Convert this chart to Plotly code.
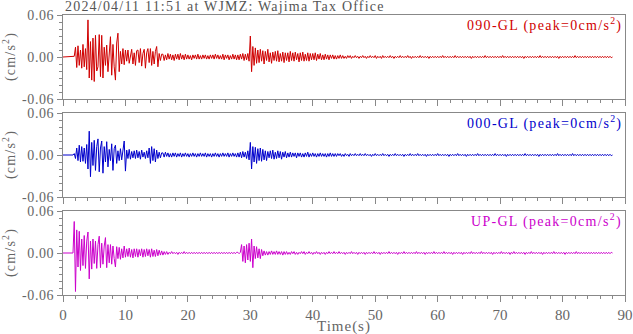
import numpy as np
import plotly.graph_objects as go
from plotly.subplots import make_subplots

# sampling step of the traces (s); values are in 0.001 cm/s^2
dt = 0.2

ns_090 = [
    0, 0, 0, 0, 0, 0, 0, 0, 0, 1, 14, -15, 16, -12, 10, -16, 18, -14, 12, -18,
    53, -30, 22, -33, 27, -35, 31, -20, -14, 32, -28, 31, -30, 14, -12, 17, -21, 10, 29, -26,
    18, -14, -33, 20, 34, -21, 8, -10, 12, -11, 10, -6, 10, -9, 4, 11, -10, 6, -12, 9,
    10, -8, 12, -13, 5, 11, -16, 6, 12, -8, 12, -12, 8, -10, 8, 15, -14, 5, -5, 4,
    4, -5, 3, -4, 5, -3, 4, -4, 3, -5, 4, -3, 4, -4, 5, -3, 3, -4, 4, -3,
    3, -3, 2, -4, 3, -2, 3, -3, 4, -3, 2, -3, 3, -2, 3, -3, 2, -3, 3, -2,
    3, -3, 4, -2, 3, -3, 2, -3, 4, -4, 3, -2, 3, -4, 2, -3, 4, -3, 3, -4,
    3, -4, 4, -3, 5, -5, 4, -4, 5, -6, 30, -21, 15, -12, 13, -9, 10, -8, 11, -6,
    9, -10, 8, -5, 11, -7, 6, -9, 7, -5, 8, -6, 9, -7, 5, -6, 7, -8, 6, -5,
    6, -7, 8, -5, 6, -6, 7, -4, 5, -7, 6, -5, 7, -6, 4, -5, 6, -6, 5, -4,
    5, -4, 6, -5, 4, -3, 5, -4, 3, -4, 4, -3, 3, -4, 3, -2, 3, -3, 2, -3,
    2, -2, 3, -2, 2, -2, 1, -2, 2, -1, 2, -2, 1, -1, 2, -1, 1, -2, 1, -1,
    2, -1, 1, -2, 1, -1, 2, -1, 1, -1, 2, -2, 1, -1, 1, -2, 2, -1, 1, -1,
    1, -1, 2, -1, 1, -2, 1, -1, 1, -1, 2, -1, 1, -1, 1, -1, 2, -1, 1, -2,
    1, -1, 1, -1, 1, -1, 2, -1, 1, -1, 1, -1, 1, -2, 1, -1, 1, -1, 1, -1,
    1, -1, 1, -1, 2, -1, 1, -1, 1, -1, 1, -1, 1, -1, 2, -1, 1, -1, 1, -1,
    1, -1, 1, -1, 1, -1, 1, -2, 1, -1, 1, -1, 1, -1, 1, -1, 1, -1, 2, -1,
    1, -1, 1, -1, 1, -1, 1, -1, 1, -1, 1, -1, 2, -1, 1, -1, 1, -1, 1, -1,
    1, -1, 1, -1, 1, -1, 1, -1, 1, -2, 1, -1, 1, -1, 1, -1, 1, -1, 1, -1,
    1, -1, 2, -1, 1, -1, 1, -1, 1, -1, 1, -1, 1, -1, 1, -1, 1, -2, 1, -1,
    1, -1, 1, -1, 1, -1, 1, -1, 1, -1, 2, -1, 1, -1, 1, -1, 1, -1, 1, -1,
    1, -1, 1, -1, 1, -1, 1, -1, 1, -1, 1, -1, 1, -1, 1, -1, 1, -1, 1, -1,
    0,
]

ns_000 = [
    0, 0, 0, 0, 0, 0, 0, 0, 0, 2, -5, 10, -8, 14, -10, 12, -9, 10, -12, 15,
    -20, 34, -31, 18, -15, 21, -22, 12, 23, -24, 10, 20, -26, 12, -10, 19, -17, 8, -8, 16,
    -22, 9, 14, -12, 6, -8, 9, -7, 5, 20, -23, 7, -5, 8, -6, 5, -4, 6, -5, 7,
    -4, 5, -6, 7, -3, 4, -5, 6, -4, 10, -12, 12, -8, 9, -10, 7, -5, 4, -4, 3,
    3, -3, 4, -2, 3, -3, 2, -3, 3, -2, 3, -3, 2, -2, 3, -3, 2, -2, 3, -2,
    2, -3, 2, -2, 3, -2, 2, -3, 2, -2, 3, -2, 2, -2, 3, -3, 2, -2, 2, -3,
    2, -2, 3, -2, 2, -3, 2, -2, 3, -2, 2, -2, 3, -3, 2, -2, 3, -2, 2, -3,
    3, -3, 4, -4, 5, -3, 4, -5, 6, -7, 18, -20, 12, -10, 11, -12, 9, -8, 10, -9,
    8, -7, 6, -8, 5, -4, 6, -5, 7, -6, 4, -5, 6, -4, 5, -6, 4, -3, 5, -4,
    3, -3, 4, -3, 3, -2, 3, -4, 3, -2, 3, -3, 2, -3, 3, -2, 4, -3, 2, -2,
    3, -2, 2, -3, 2, -2, 3, -2, 2, -2, 2, -3, 2, -2, 3, -2, 2, -2, 2, -2,
    2, -1, 2, -2, 1, -2, 2, -1, 1, -2, 2, -1, 1, -1, 2, -1, 1, -1, 2, -1,
    1, -1, 2, -1, 1, -1, 1, -2, 1, -1, 2, -1, 1, -1, 1, -1, 2, -1, 1, -1,
    1, -2, 1, -1, 1, -1, 2, -1, 1, -1, 1, -1, 1, -2, 1, -1, 1, -1, 2, -1,
    1, -1, 1, -1, 2, -1, 1, -1, 1, -1, 1, -2, 1, -1, 1, -1, 1, -1, 1, -1,
    2, -1, 1, -1, 1, -1, 1, -1, 1, -2, 1, -1, 1, -1, 1, -1, 2, -1, 1, -1,
    1, -1, 1, -2, 1, -1, 1, -1, 1, -1, 1, -1, 2, -1, 1, -1, 1, -1, 1, -1,
    1, -1, 1, -1, 1, -1, 2, -1, 1, -1, 1, -1, 1, -1, 1, -2, 1, -1, 1, -1,
    1, -1, 1, -1, 1, -1, 1, -1, 1, -1, 2, -1, 1, -1, 1, -1, 1, -1, 1, -1,
    1, -2, 1, -1, 1, -1, 1, -1, 1, -1, 1, -1, 1, -1, 1, -1, 2, -1, 1, -1,
    1, -1, 1, -1, 1, -1, 1, -1, 2, -1, 1, -1, 1, -1, 1, -1, 1, -1, 1, -1,
    1, -1, 1, -1, 1, -1, 1, -1, 1, -1, 1, -1, 1, -1, 1, -1, 1, -1, 1, -1,
    0,
]

ud = [
    0, 0, 0, 0, 0, 0, 0, 0, 0, 45, -55, 33, -20, 31, -25, 20, -18, 25, -22, 17,
    30, -37, 17, -23, 20, -15, 17, -22, 12, 24, -21, 14, -16, 10, 22, -21, 12, -14, 12, -16,
    10, -8, -20, 9, -8, 8, -9, 6, -7, 10, -6, 6, -5, 7, -6, 5, -7, 6, -5, 6,
    -6, 5, -4, 6, -6, 5, -5, 6, -4, 5, -6, 6, -5, 4, -5, 5, -4, 4, -3, 3,
    -3, 2, -2, 2, -2, 1, -1, 2, -1, 1, -1, 1, -2, 1, -1, 1, -1, 2, -1, 1,
    -1, 1, -1, 1, -1, 1, -1, 1, -1, 1, -1, 1, -1, 1, -1, 1, -1, 1, -1, 1,
    -1, 1, -1, 1, -1, 1, -1, 1, -1, 1, -1, 1, -1, 1, -1, 1, -1, 1, -1, 1,
    1, -1, 1, 12, -12, 10, -14, 12, -10, 14, -12, 20, -21, 10, -8, 9, -7, 6, -8, 5,
    -4, 3, -3, 2, -3, 2, -2, 3, -2, 2, -2, 3, -2, 2, -2, 2, -3, 2, -2, 2,
    -2, 1, -2, 2, -1, 2, -2, 1, -2, 1, -1, 2, -1, 2, -2, 1, -1, 2, -1, 1,
    -2, 1, -1, 2, -1, 1, -2, 1, -1, 1, -2, 1, -1, 2, -1, 1, -1, 2, -1, 1,
    -1, 2, -1, 1, -1, 1, -2, 1, -1, 1, -1, 2, -1, 1, -1, 1, -2, 1, -1, 1,
    -1, 1, -2, 1, -1, 1, -1, 1, -1, 2, -1, 1, -1, 1, -2, 1, -1, 1, -1, 1,
    -1, 2, -1, 1, -1, 1, -1, 1, -2, 1, -1, 1, -1, 2, -1, 1, -1, 1, -1, 1,
    -1, 1, -1, 2, -1, 1, -1, 1, -1, 1, -2, 1, -1, 1, -1, 1, -1, 2, -1, 1,
    -1, 1, -1, 1, -1, 2, -1, 1, -1, 1, -1, 1, -2, 1, -1, 1, -1, 1, -1, 1,
    -2, 1, -1, 1, -1, 1, -1, 2, -1, 1, -1, 1, -1, 1, -1, 2, -1, 1, -1, 1,
    -1, 1, -1, 1, -2, 1, -1, 1, -1, 1, -1, 2, -1, 1, -1, 1, -1, 1, -2, 1,
    -1, 2, -1, 1, -1, 1, -1, 1, -1, 1, -2, 1, -1, 1, -1, 2, -1, 1, -1, 1,
    -1, 1, -1, 1, -2, 1, -1, 1, -1, 1, -1, 1, -1, 2, -1, 1, -1, 1, -1, 1,
    -1, 1, -2, 1, -1, 1, -1, 1, -1, 1, -1, 2, -1, 1, -1, 1, -1, 1, -1, 1,
    -1, 1, -1, 1, -1, 1, -1, 1, -1, 1, -1, 1, -1, 1, -1, 1, -1, 1, -1, 1,
    0,
]

labels = ["090-GL", "000-GL", "UP-GL"]
colors = ["#d00000", "#0000cc", "#cc00cc"]
series = [ns_090, ns_000, ud]

title = "2024/04/11 11:51 at WJMZ: Wajima Tax Office"
y_ticks = [-0.06, 0, 0.06]
y_ticktext = ["-0.06", "0.00", "0.06"]
font_name = "Liberation Serif"
grey = "#888888"
txt = "#666666"


def spaced(s, px):
    return '<span style="letter-spacing:%spx">%s</span>' % (px, s)


fig = make_subplots(rows=3, cols=1, shared_xaxes=True, vertical_spacing=0.05)

for i, (lab, col, vals) in enumerate(zip(labels, colors, series)):
    acc = np.array(vals) / 1000.0
    t = np.arange(len(acc)) * dt
    fig.add_trace(go.Scatter(x=t, y=acc, mode="lines",
                             line=dict(color=col, width=1), showlegend=False),
                  row=i + 1, col=1)
    n = "" if i == 0 else str(i + 1)
    fig.add_annotation(xref="x" + n + " domain", yref="y" + n + " domain",
                       x=0.998, y=1.0, xanchor="right", yanchor="top", yshift=2,
                       text=spaced(lab + " (peak=0cm/s<sup>2</sup>)", 1.3),
                       showarrow=False,
                       font=dict(color=col, size=14, family=font_name))
    fig.add_annotation(xref="paper", yref="y" + n + " domain",
                       x=-0.096, y=0.5, xanchor="center", yanchor="middle",
                       text=spaced("(cm/s<sup>2</sup>)", 1.2), textangle=-90,
                       showarrow=False,
                       font=dict(color=txt, size=14, family=font_name))

fig.update_yaxes(range=[-0.06, 0.06], tickvals=y_ticks,
                 ticktext=[spaced(s, 0.6) for s in y_ticktext],
                 ticks="outside", ticklen=5, tickcolor=grey, automargin=False,
                 minor=dict(ticks="outside", dtick=0.01, ticklen=3, tickcolor=grey),
                 showline=True, linecolor=grey, mirror=True, showgrid=False,
                 zeroline=False, tickfont=dict(size=14, color=txt, family=font_name))
fig.update_xaxes(range=[0, 90], dtick=10, ticks="outside", ticklen=6, tickcolor=grey,
                 automargin=False,
                 minor=dict(ticks="outside", dtick=2, ticklen=3, tickcolor=grey),
                 showline=True, linecolor=grey, mirror=True, showgrid=False,
                 zeroline=False, tickfont=dict(size=15, color=txt, family=font_name))

fig.add_annotation(xref="paper", yref="paper", x=0.5, y=0, yshift=-31,
                   xanchor="center", yanchor="middle", text=spaced("Time(s)", 1.0),
                   showarrow=False, font=dict(size=15, color=txt, family=font_name))
fig.add_annotation(xref="paper", yref="paper", x=0, y=1, xanchor="left", yanchor="bottom",
                   text=spaced(title, 1.2), showarrow=False, yshift=-1,
                   font=dict(size=14, color="#555555", family=font_name))

fig.update_layout(width=633, height=334, margin=dict(l=63, r=8, t=15, b=39),
                  plot_bgcolor="white", paper_bgcolor="white",
                  font=dict(family=font_name))

fig.write_html("out.html", config={"displayModeBar": False},
               post_script="document.body.style.margin='0';"
                           "document.body.style.overflow='hidden';")
